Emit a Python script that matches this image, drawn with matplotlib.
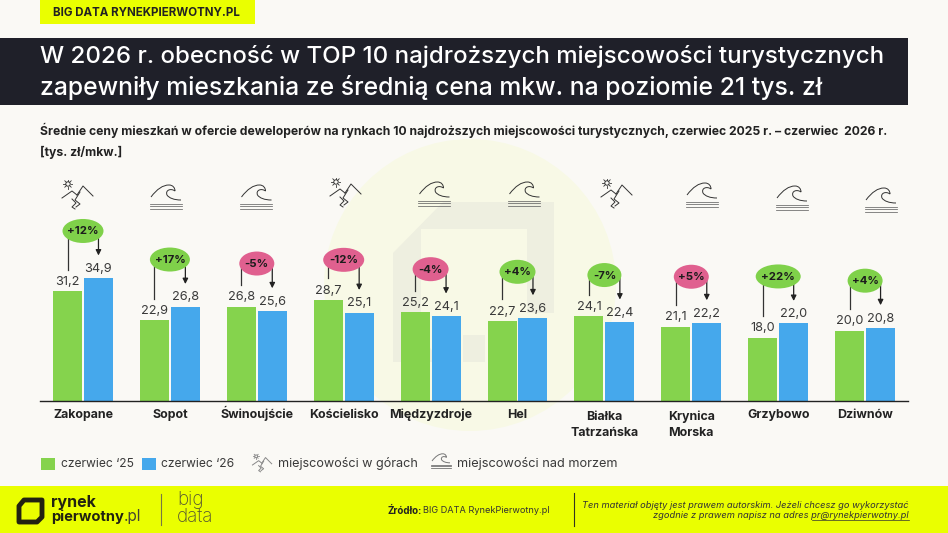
import numpy as np
import matplotlib
matplotlib.use("Agg")
import matplotlib.pyplot as plt
import matplotlib.patches as patches
from matplotlib.path import Path

# chart values
cities = ["Zakopane", "Sopot", "Świnoujście", "Kościelisko", "Międzyzdroje", "Hel",
          "Białka\nTatrzańska", "Krynica\nMorska", "Grzybowo", "Dziwnów"]
jun_25 = [31.2, 22.9, 26.8, 28.7, 25.2, 22.7, 24.1, 21.1, 18.0, 20.0]
jun_26 = [34.9, 26.8, 25.6, 25.1, 24.1, 23.6, 22.4, 22.2, 22.0, 20.8]
labels_25 = ["31,2", "22,9", "26,8", "28,7", "25,2", "22,7", "24,1", "21,1", "18,0", "20,0"]
labels_26 = ["34,9", "26,8", "25,6", "25,1", "24,1", "23,6", "22,4", "22,2", "22,0", "20,8"]
changes = ["+12%", "+17%", "-5%", "-12%", "-4%", "+4%", "-7%", "+5%", "+22%", "+4%"]
badge_colors = ["g", "g", "p", "p", "p", "g", "g", "p", "g", "g"]
kinds = ["m", "s", "s", "m", "s", "s", "m", "s", "s", "s"]

# layout in px
badge_gap = [47, 47, 43, 40, 43, 46, 41, 46, 47, 47]
badge_w = [41, 40, 35, 41, 36, 36, 34, 35, 45, 35]
icon_x = [79, 166, 256.5, 347, 434.5, 524.5, 618, 702, 792, 881]
icon_y = [198, 197, 197, 196, 194, 194, 197, 195, 198, 200]

GREEN = "#85D34D"
BLUE = "#45A8EC"
BADGE = {"g": "#7FD14A", "p": "#E0608F"}
YELLOW = "#EAFF00"
DARK = "#1F2029"
TXT = "#3A3A3A"
FONT = "Inter"

plt.rcParams["font.family"] = [FONT, "DejaVu Sans"]

fig = plt.figure(figsize=(9.48, 5.33), dpi=100, facecolor="#FAF9F5")

# overlay in pixel coordinates for everything that is not a bar
bg = fig.add_axes([0, 0, 1, 1])
bg.set_xlim(0, 948)
bg.set_ylim(533, 0)
bg.axis("off")

# watermark
bg.add_patch(patches.Circle((470, 285), 146, fc="#F8F9E6", ec="none"))
bg.add_patch(patches.Polygon([(393, 253), (443, 202), (554, 202), (554, 313), (527, 313), (527, 229),
                              (421, 229), (421, 335), (440, 362), (393, 362)],
                             fc="#EEEFE0", ec="none"))
bg.add_patch(patches.Rectangle((463, 335), 22, 27, fc="#EEEFE0", ec="none"))

# header
bg.add_patch(patches.Rectangle((40, 0), 215, 24, fc=YELLOW, ec="none"))
bg.text(53, 12.5, "BIG DATA RYNEKPIERWOTNY.PL", fontsize=8.3, fontweight="bold", color="#222222", va="center")
bg.add_patch(patches.Rectangle((0, 38), 908, 67, fc=DARK, ec="none"))
bg.text(40, 56, "W 2026 r. obecność w TOP 10 najdroższych miejscowości turystycznych",
        fontsize=17.35, color="white", va="center", fontweight="medium")
bg.text(40, 88, "zapewniły mieszkania ze średnią cena mkw. na poziomie 21 tys. zł",
        fontsize=17.8, color="white", va="center", fontweight="medium")
bg.text(40, 130, "Średnie ceny mieszkań w ofercie deweloperów na rynkach 10 najdroższych miejscowości turystycznych, czerwiec 2025 r. – czerwiec  2026 r.",
        fontsize=8.75, fontweight="bold", color="#222222", va="center")
bg.text(40, 152, "[tys. zł/mkw.]", fontsize=8.75, fontweight="bold", color="#222222", va="center")

# bars
ax = fig.add_axes([40 / 948, (533 - 401) / 533, 868 / 948, 231 / 533])
ax.patch.set_alpha(0)
px_per_unit = 3.525
ax.set_ylim(0, 231 / px_per_unit)
ax.set_xlim((40 - 83) / 86.9, (908 - 83) / 86.9)
xs = np.arange(len(cities))
w = 0.334
off = 0.178
ax.bar(xs - off, jun_25, w, color=GREEN)
ax.bar(xs + off, jun_26, w, color=BLUE)
ax.set_xticks(xs)
ax.set_xticklabels(cities, fontsize=8.95, fontweight="bold", color="#222222", linespacing=1.4, va="baseline")
ax.tick_params(axis="x", length=0)
# baseline of a two line label is its last line, so those sit one line lower
for tick, name in zip(ax.xaxis.get_major_ticks(), cities):
    tick.set_pad(25 if "\n" in name else 12.5)
ax.set_yticks([])
for s in ["top", "left", "right"]:
    ax.spines[s].set_visible(False)
ax.spines["bottom"].set_color("#222222")
ax.spines["bottom"].set_linewidth(1)

to_px = lambda v: 401 - v * px_per_unit
to_cx = lambda i: 83 + 86.9 * i

for i in xs:
    ax.text(i - off, jun_25[i] + 0.9, labels_25[i], ha="center", va="bottom", fontsize=9.2, color=TXT)
    ax.text(i + off, jun_26[i] + 0.9, labels_26[i], ha="center", va="bottom", fontsize=9.2, color=TXT)

    # badge and connectors
    cx = to_cx(i)
    top = to_px(max(jun_25[i], jun_26[i]))
    by = top - badge_gap[i]
    lx = cx - off * 86.9
    rx = cx + off * 86.9
    bg.plot([lx, lx], [by + 3, to_px(jun_25[i]) - 21.5], color="#333333", lw=0.9, zorder=3)
    bg.annotate("", xy=(rx, to_px(jun_26[i]) - 22.5), xytext=(rx, by + 3),
                arrowprops=dict(arrowstyle="-|>", color="#222222", lw=0.9, mutation_scale=8,
                                shrinkA=0, shrinkB=0), zorder=3)
    bg.add_patch(patches.Ellipse((cx, by), badge_w[i], 24, fc=BADGE[badge_colors[i]], ec="none", zorder=4))
    bg.text(cx, by + 0.5, changes[i], ha="center", va="center", fontsize=8.2, fontweight="bold",
            color="#1c1c1c", zorder=5)


def wave(cx, cy, s=1.0, col="#333333", lw=0.7):
    verts = [(-15, 0), (-9, -8), (-3, -12), (3, -12), (7, -12), (9, -9), (9, -6),
             (5, -9), (-1, -7), (1, -2), (3, 1), (8, 3), (15, 3)]
    codes = [Path.MOVETO] + [Path.CURVE4] * 12
    pts = [(cx + x * s, cy + y * s) for x, y in verts]
    bg.add_patch(patches.PathPatch(Path(pts, codes), fc="none", ec=col, lw=lw))
    for dy in (6.5, 9, 11.5):
        bg.plot([cx - 16 * s, cx + 16 * s], [cy + dy * s] * 2, color="#666666", lw=0.55, zorder=2)


def mountain(cx, cy, s=1.0, col="#333333", lw=0.7):
    lines = [[(-17, 0), (-7, -7), (-2, -3)],
             [(-2, -3), (4, -12), (14, -2)],
             [(1, -6), (-4, 2), (1, 6), (-3, 9)],
             [(-7, 1), (-3, 5), (-7, 9), (-4, 11)]]
    for ln in lines:
        bg.plot([cx + x * s for x, y in ln], [cy + y * s for x, y in ln], color=col, lw=lw, zorder=2)
    sx, sy = cx - 11 * s, cy - 14 * s
    bg.add_patch(patches.Circle((sx, sy), 2.2 * s, fc="none", ec=col, lw=lw))
    for a in np.arange(0, 360, 45):
        ca, sa = np.cos(np.radians(a)), np.sin(np.radians(a))
        bg.plot([sx + 3 * s * ca, sx + 4.5 * s * ca], [sy + 3 * s * sa, sy + 4.5 * s * sa],
                color=col, lw=0.6, zorder=2)


for i in xs:
    if kinds[i] == "m":
        mountain(icon_x[i], icon_y[i])
    else:
        wave(icon_x[i], icon_y[i])

# legend
bg.add_patch(patches.Rectangle((41, 458), 14, 12, fc=GREEN, ec="none"))
bg.text(61, 464, "czerwiec ‘25", fontsize=8.7, color=TXT, va="center")
bg.add_patch(patches.Rectangle((142, 458), 14, 12, fc=BLUE, ec="none"))
bg.text(161, 464, "czerwiec ‘26", fontsize=8.7, color=TXT, va="center")
mountain(263, 465, 0.62, "#888888")
bg.text(278, 463, "miejscowości w górach", fontsize=9.1, color=TXT, va="center")
wave(441, 461, 0.6, "#777777")
bg.text(457, 463, "miejscowości nad morzem", fontsize=9.2, color=TXT, va="center")

# footer
bg.add_patch(patches.Rectangle((0, 486), 948, 47, fc=YELLOW, ec="none"))
bg.add_patch(patches.Polygon([(19, 506), (24, 500), (42, 500), (42, 517), (37, 522), (19, 522)],
                             fc="none", ec="#222211", lw=3.5, joinstyle="round"))
bg.text(51, 502, "rynek", fontsize=11.5, fontweight="bold", color="#222211", va="center")
bg.text(51, 517, "pierwotny", fontsize=10.6, fontweight="bold", color="#222211", va="center")
bg.text(124, 517, ".pl", fontsize=11, color="#444433", va="center")
bg.plot([161, 161], [494, 525], color="#777744", lw=0.8)
bg.text(177, 500, "big", fontsize=13.5, fontweight="light", color="#555533", va="center")
bg.text(177, 517, "data", fontsize=13.5, fontweight="light", color="#555533", va="center")
bg.text(388, 510.5, "Źródło:", fontsize=7, fontweight="bold", color="#222222", va="center")
bg.text(423, 510.5, "BIG DATA RynekPierwotny.pl", fontsize=6.6, color="#333333", va="center")
bg.plot([574, 574], [493, 526], color="#333322", lw=0.8)
bg.text(909, 505, "Ten materiał objęty jest prawem autorskim. Jeżeli chcesz go wykorzystać",
        fontsize=6.7, style="italic", color="#333333", va="center", ha="right")
bg.text(909, 515, "zgodnie z prawem napisz na adres pr@rynekpierwotny.pl",
        fontsize=6.7, style="italic", color="#333333", va="center", ha="right")
bg.plot([812, 909], [520, 520], color="#333333", lw=0.5)

fig.savefig("out.png", dpi=100, facecolor=fig.get_facecolor())
